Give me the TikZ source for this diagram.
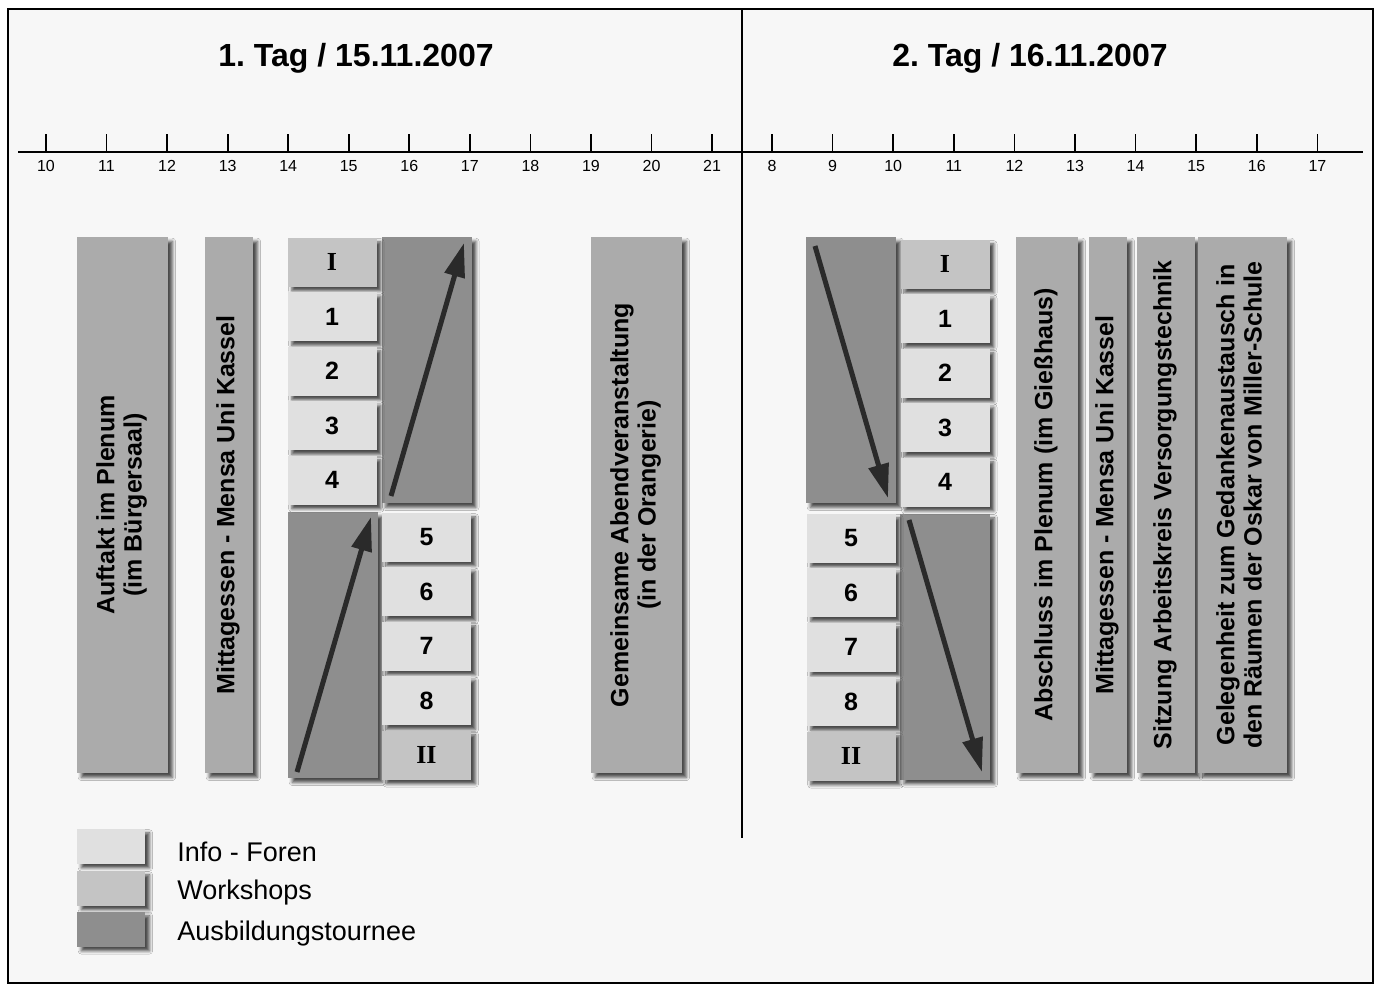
\documentclass[tikz,border=0pt]{standalone}
\usepackage{fontspec}
\usepackage{graphicx}
\setmainfont{Liberation Sans}
\newfontfamily\romfont{Liberation Serif}
\usetikzlibrary{shadows.blur,arrows.meta}
\frenchspacing
\definecolor{bgcol}{HTML}{F7F7F7}
\definecolor{infocol}{HTML}{E0E0E0}
\definecolor{wscol}{HTML}{C4C4C4}
\definecolor{tourcol}{HTML}{8E8E8E}
\definecolor{barcol}{HTML}{ABABAB}
\definecolor{arrowcol}{HTML}{2A2A2A}
\newcommand\myvtext[1]{\rotatebox{90}{\begin{tabular}{@{}c@{}}#1\end{tabular}}}
\tikzset{
  box/.style={inner sep=0pt, outer sep=0pt,
    blur shadow={shadow xshift=2.2pt, shadow yshift=-2.2pt, shadow blur radius=1.6pt, shadow opacity=70}},
  infobox/.style={box, fill=infocol, minimum width=44.5pt, minimum height=24.5pt,
    font=\bfseries\fontsize{12.5}{14}\selectfont},
  wsbox/.style={box, fill=wscol, minimum width=44.5pt, minimum height=24.5pt,
    font=\romfont\bfseries\fontsize{13}{14}\selectfont},
  tourbox/.style={box, fill=tourcol, minimum width=45pt, minimum height=133pt},
  barbox/.style={box, fill=barcol, minimum height=268pt,
    font=\bfseries\fontsize{12.5}{13.7}\selectfont},
  tourarrow/.style={draw=arrowcol, line width=2.5pt, -{Triangle[length=17pt,width=10pt]}},
  ticklabel/.style={font=\fontsize{8}{9}\selectfont, inner sep=0pt},
  legbox/.style={box, minimum width=34pt, minimum height=17.5pt},
  legtext/.style={anchor=west, inner sep=0pt, font=\fontsize{13.5}{15}\selectfont},
  title/.style={font=\bfseries\fontsize{16}{18}\selectfont, inner sep=0pt},
}
\begin{document}
\begin{tikzpicture}[x=0.5pt, y=-0.5pt]
\useasboundingbox (0,0) rectangle (1378,985);
\fill[white] (0,0) rectangle (1378,985);
\draw[fill=bgcol, line width=1pt] (8,9) rectangle (1373,983);
% divider
\draw[line width=1pt] (742,9) -- (742,838);
% titles
\node[title] (title1) at (356,58) {1. Tag / 15.11.2007};
\node[title] (title2) at (1030,58) {2. Tag / 16.11.2007};
% axis
\draw[line width=1pt] (18,152) -- (1363,152);
\foreach \h in {10,...,21}{
  \draw[line width=0.85pt] ({46+60.55*(\h-10)},134) -- ({46+60.55*(\h-10)},152);
  \node[ticklabel] (da\h) at ({46+60.55*(\h-10)},166) {\h};
}
\foreach \h in {8,...,17}{
  \draw[line width=0.85pt] ({772+60.6*(\h-8)},134) -- ({772+60.6*(\h-8)},152);
  \node[ticklabel] (db\h) at ({772+60.6*(\h-8)},166) {\h};
}
% ---------- Day 1 ----------
\node[barbox, minimum width=45.5pt] (auftakt) at (122.5,505)
  {\myvtext{Auftakt im Plenum\\(im Bürgersaal)}};
\node[barbox, minimum width=24pt] (mittag1) at (229,505)
  {\myvtext{Mittagessen - Mensa Uni Kassel}};
\node[tourbox] (tourA) at (426.5,370) {};
\node[tourbox] (tourB) at (333,645) {};
\node[wsbox] (wsIa) at (332,262) {I};
\node[infobox] (i1a) at (332,316.5) {1};
\node[infobox] (i2a) at (332,371) {2};
\node[infobox] (i3a) at (332,425.5) {3};
\node[infobox] (i4a) at (332,480) {4};
\node[infobox] (i5a) at (426.5,537) {5};
\node[infobox] (i6a) at (426.5,591.5) {6};
\node[infobox] (i7a) at (426.5,646) {7};
\node[infobox] (i8a) at (426.5,700.5) {8};
\node[wsbox] (wsIIa) at (426.5,755) {II};
\coordinate (a1s) at (391,496);
\coordinate (a1e) at (464,243);
\coordinate (a2s) at (297,772);
\coordinate (a2e) at (371,517);
\draw[tourarrow] (a1s) -- (a1e);
\draw[tourarrow] (a2s) -- (a2e);
\node[barbox, minimum width=45.5pt] (abend) at (636.5,505)
  {\myvtext{Gemeinsame Abendveranstaltung\\(in der Orangerie)}};
% ---------- Day 2 ----------
\node[tourbox] (tourC) at (851,370) {};
\node[tourbox] (tourD) at (945,646.5) {};
\node[wsbox] (wsIb) at (945,264) {I};
\node[infobox] (i1b) at (945,318.5) {1};
\node[infobox] (i2b) at (945,373) {2};
\node[infobox] (i3b) at (945,427.5) {3};
\node[infobox] (i4b) at (945,482) {4};
\node[infobox] (i5b) at (851,538) {5};
\node[infobox] (i6b) at (851,592.5) {6};
\node[infobox] (i7b) at (851,647) {7};
\node[infobox] (i8b) at (851,701.5) {8};
\node[wsbox] (wsIIb) at (851,756) {II};
\coordinate (b1s) at (815,246);
\coordinate (b1e) at (888,498);
\coordinate (b2s) at (909,520);
\coordinate (b2e) at (982,772);
\draw[tourarrow] (b1s) -- (b1e);
\draw[tourarrow] (b2s) -- (b2e);
\node[barbox, minimum width=31pt] (abschluss) at (1047,505)
  {\myvtext{Abschluss im Plenum (im Gießhaus)}};
\node[barbox, minimum width=19pt] (mittag2) at (1108,505)
  {\myvtext{Mittagessen - Mensa Uni Kassel}};
\node[barbox, minimum width=29pt] (sitzung) at (1166,505)
  {\myvtext{Sitzung Arbeitskreis Versorgungstechnik}};
\node[barbox, minimum width=44.5pt] (gelegen) at (1242.5,505)
  {\myvtext{Gelegenheit zum Gedankenaustausch in\\den Räumen der Oskar von Miller-Schule}};
% ---------- Legend ----------
\node[legbox, fill=infocol] (leg1) at (111,846) {};
\node[legbox, fill=wscol] (leg2) at (111,888) {};
\node[legbox, fill=tourcol] (leg3) at (111,929) {};
\node[legtext] (lt1) at (177,852) {Info - Foren};
\node[legtext] (lt2) at (177,893) {Workshops};
\node[legtext] (lt3) at (177,934) {Ausbildungstournee};
\end{tikzpicture}
\end{document}
